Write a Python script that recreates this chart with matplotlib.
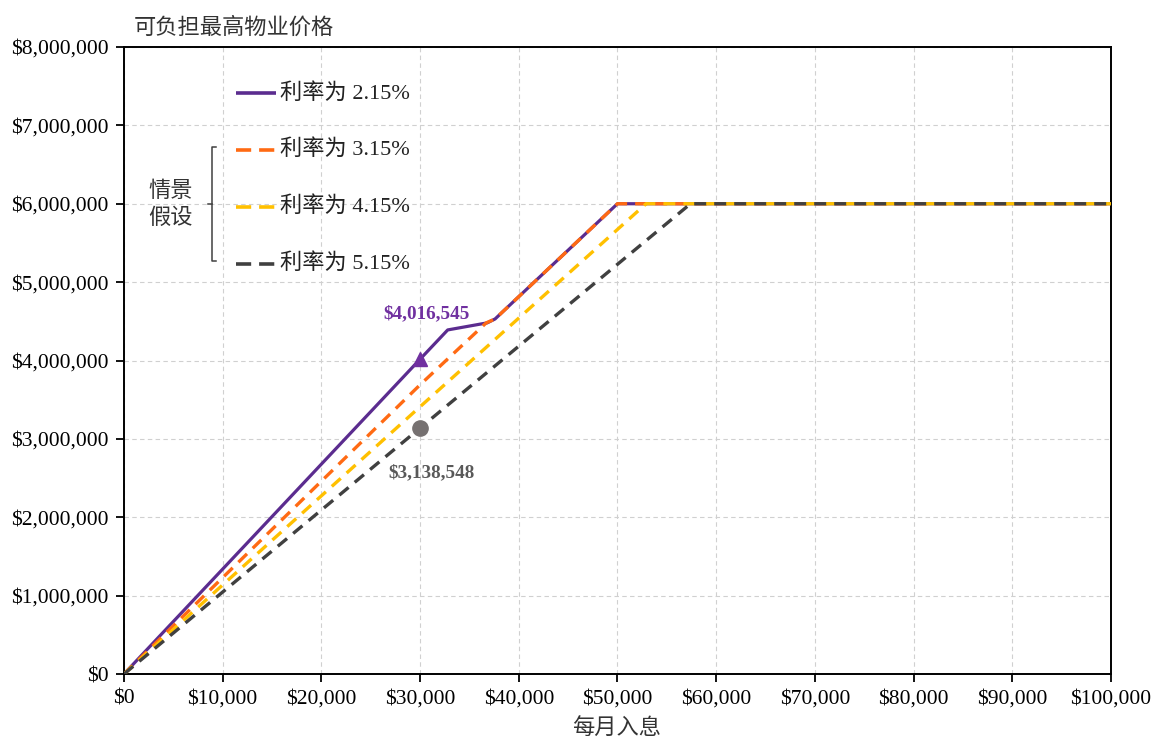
import matplotlib.pyplot as plt
from matplotlib.ticker import FuncFormatter, MultipleLocator

# fonts: Times-like digits, CJK glyphs fall back to Noto
plt.rcParams['font.family'] = ['Liberation Serif', 'Noto Sans CJK SC']
CJK = ['Noto Sans CJK SC', 'DejaVu Sans']
MIX = ['Liberation Serif', 'Noto Sans CJK SC']

# monthly income vs. max affordable property price (turning points of each curve)
income_215 = [0, 30000, 32800, 36800, 37600, 50000, 100000]
price_215 = [0, 4016545, 4390000, 4480000, 4530000, 6000000, 6000000]

income_315 = [0, 30000, 36700, 37600, 50000, 100000]
price_315 = [0, 3690000, 4480000, 4530000, 6000000, 6000000]

income_415 = [0, 30000, 52900, 100000]
price_415 = [0, 3410000, 6000000, 6000000]

income_515 = [0, 30000, 57400, 100000]
price_515 = [0, 3138548, 6000000, 6000000]

labels = ['利率为 2.15%', '利率为 3.15%', '利率为 4.15%', '利率为 5.15%']
colors = ['#5B2C8F', '#FF6A13', '#FFC000', '#404040']

mark_income = 30000
mark_low = 4016545
mark_high = 3138548

fig = plt.figure(figsize=(11.52, 7.42), dpi=100)
ax = fig.add_axes([0.1076, 0.0916, 0.8568, 0.8451])

dash = (0, (3.6, 2.4))
ax.plot(income_215, price_215, color=colors[0], lw=2.3, zorder=3)
ax.plot(income_315, price_315, color=colors[1], lw=2.4, ls=dash, zorder=4)
ax.plot(income_415, price_415, color=colors[2], lw=2.4, ls=dash, zorder=5)
ax.plot(income_515, price_515, color=colors[3], lw=2.4, ls=dash, zorder=6)

# highlighted points at $30,000 income
ax.plot([mark_income], [mark_low], marker='^', ms=10, color='#7030A0', zorder=7)
ax.plot([mark_income], [mark_high], marker='o', ms=11, color='#767171', zorder=7)
ax.annotate(f'${mark_low:,}', (mark_income, mark_low), xytext=(5, 33),
            textcoords='offset points', ha='center', va='center',
            fontsize=13.8, fontweight='bold', color='#7030A0')
ax.annotate(f'${mark_high:,}', (mark_income, mark_high), xytext=(8, -32),
            textcoords='offset points', ha='center', va='center',
            fontsize=13.8, fontweight='bold', color='#595959')

ax.set_xlim(0, 100000)
ax.set_ylim(0, 8000000)
ax.xaxis.set_major_locator(MultipleLocator(10000))
ax.yaxis.set_major_locator(MultipleLocator(1000000))
money = FuncFormatter(lambda v, p: f'${v:,.0f}')
ax.xaxis.set_major_formatter(money)
ax.yaxis.set_major_formatter(money)
ax.tick_params(direction='out', length=6, width=1.3, labelsize=15.5, colors='black', pad=5)
ax.grid(True, color='#d0d0d0', ls=(0, (4, 3)), lw=0.8)
ax.set_axisbelow(True)
for s in ax.spines.values():
    s.set_linewidth(1.4)
    s.set_color('black')

fig.text(0.1163, 0.9636, '可负担最高物业价格', family=CJK, fontsize=16,
         color='#333333', va='center', ha='left')
fig.text(0.5356, 0.018, '每月入息', family=CJK, fontsize=16,
         color='#333333', va='center', ha='center')

# hand-drawn legend with the scenario bracket
leg_y = [7.41e6, 6.69e6, 5.96e6, 5.23e6]
for i, (lab, c) in enumerate(zip(labels, colors)):
    ls = '-' if i == 0 else (0, (4.2, 2.2))
    ax.plot([11400, 15400], [leg_y[i]] * 2, color=c, lw=2.6, ls=ls,
            solid_capstyle='butt', dash_capstyle='butt', clip_on=False)
    ax.text(15800, leg_y[i], lab, family=MIX, fontsize=16, color='#222222',
            va='center', ha='left')

bx = 8900
ax.plot([bx + 400, bx, bx, bx + 400], [6.73e6, 6.73e6, 5.27e6, 5.27e6],
        color='#404040', lw=1.1)
ax.plot([bx - 400, bx], [6.0e6, 6.0e6], color='#404040', lw=1.1)
ax.text(4700, 6.0e6, '情景\n假设', family=CJK, fontsize=16, color='#333333',
        ha='center', va='center', linespacing=1.2)

fig.savefig('out.png', dpi=100)
